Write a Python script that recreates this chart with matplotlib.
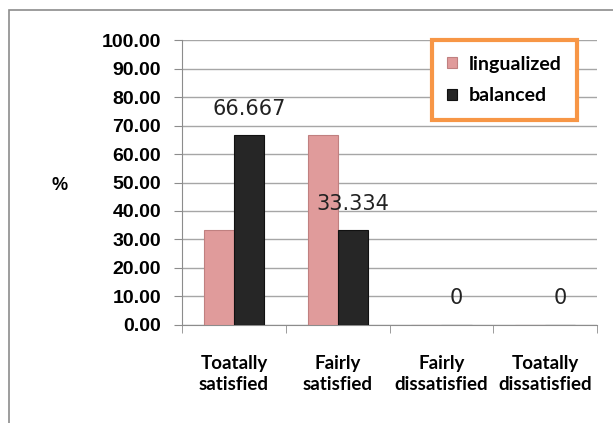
import matplotlib.pyplot as plt
from matplotlib.patches import Rectangle
import numpy as np

categories = ['Toatally\nsatisfied', 'Fairly\nsatisfied', 'Fairly\ndissatisfied', 'Toatally\ndissatisfied']
lingualized = [33.333, 66.667, 0, 0]
balanced = [66.667, 33.334, 0, 0]
balanced_labels = ['66.667', '33.334', '0', '0']

fig = plt.figure(figsize=(6.13, 4.23), dpi=100)
ax = fig.add_axes([0.297, 0.232, 0.677, 0.673])

# outer chart frame
fig.patches.append(Rectangle((9 / 613, -0.1), 1.2, 1 - 10 / 423 + 0.1, transform=fig.transFigure,
                             fill=False, edgecolor='#8c8c8c', linewidth=1.2))

x = np.arange(len(categories))
w = 0.29
ax.bar(x - w / 2, lingualized, w, color='#e09b9b', edgecolor='#c08080', linewidth=0.8, label='lingualized', zorder=3)
ax.bar(x + w / 2, balanced, w, color='#262626', edgecolor='#111111', linewidth=0.8, label='balanced', zorder=3)

for xi, v, lab in zip(x, balanced, balanced_labels):
    ax.annotate(lab, (xi + w / 2, v), xytext=(0, 19), textcoords='offset points',
                ha='center', va='center', fontsize=15, color='#222222', family='DejaVu Sans')

ax.set_xlim(-0.5, 3.5)
ax.set_ylim(0, 100)
ax.set_yticks(np.arange(0, 101, 10))
ax.set_yticklabels([f'{v:.2f}' for v in range(0, 101, 10)], fontsize=14, fontweight='bold',
                   family='Liberation Sans')
ax.set_xticks(x)
ax.set_xticklabels(categories, fontsize=13.5, family='Lato', fontweight='bold', linespacing=1.25)
ax.set_xticks(np.arange(-0.5, 4, 1), minor=True)
ax.tick_params(axis='x', which='major', length=0, pad=22)
ax.tick_params(axis='x', which='minor', length=6, color='#8c8c8c')
ax.tick_params(axis='y', length=6, color='#8c8c8c', pad=9)
ax.grid(axis='y', color='#a6a6a6', linewidth=1, zorder=0)
for s in ['top', 'right']:
    ax.spines[s].set_visible(False)
ax.spines['left'].set_color('#8c8c8c')
ax.spines['bottom'].set_color('#8c8c8c')

fig.text(60 / 613, 1 - 186 / 423, '%', fontsize=13, fontweight='bold', ha='center', va='center',
         family='Liberation Sans')

leg = ax.legend(loc='upper right', bbox_to_anchor=(0.952, 1.0), frameon=True, fancybox=False,
                prop={'family': 'Lato', 'size': 14, 'weight': 'bold'}, handlelength=0.5,
                handleheight=0.5, handletextpad=0.6, labelspacing=0.75, borderpad=0.8,
                borderaxespad=0)
leg.get_frame().set_edgecolor('#f79646')
leg.get_frame().set_linewidth(3)
leg.get_frame().set_alpha(1)

fig.savefig('out.png', dpi=100)
